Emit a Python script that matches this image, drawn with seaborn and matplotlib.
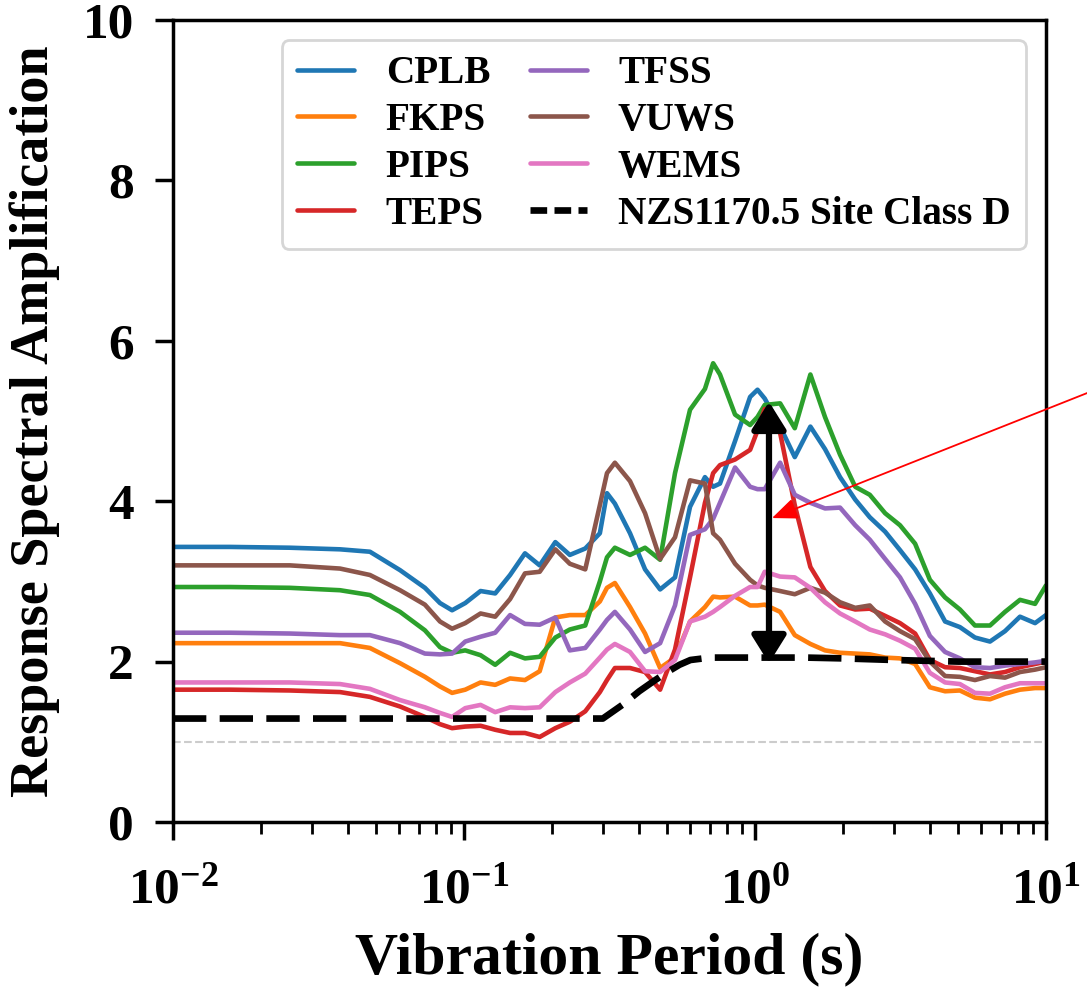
import numpy as np
import pandas as pd
import matplotlib
matplotlib.use("Agg")
import matplotlib.pyplot as plt
from matplotlib.lines import Line2D
from matplotlib.ticker import LogLocator, NullFormatter
import seaborn as sns

# ---------------- data ----------------
period = [0.01, 0.0157, 0.0252, 0.0375, 0.0475, 0.0603, 0.0734, 0.0827, 0.091, 0.101,
          0.114, 0.128, 0.144, 0.162, 0.182, 0.206, 0.231, 0.261, 0.293, 0.310,
          0.330, 0.372, 0.419, 0.472, 0.531, 0.598, 0.673, 0.718, 0.758, 0.854,
          0.962, 1.02, 1.08, 1.22, 1.37, 1.55, 1.74, 1.96, 2.21, 2.48,
          2.80, 3.15, 3.55, 3.99, 4.50, 5.06, 5.70, 6.42, 7.23, 8.14,
          9.17, 10.0]

cplb = [3.43, 3.43, 3.42, 3.40, 3.37, 3.14, 2.92, 2.73, 2.64, 2.73,
        2.88, 2.85, 3.08, 3.35, 3.20, 3.49, 3.33, 3.41, 3.60, 4.10,
        3.97, 3.60, 3.15, 2.90, 3.05, 3.93, 4.30, 4.18, 4.22, 4.75,
        5.30, 5.39, 5.28, 4.93, 4.55, 4.93, 4.65, 4.30, 4.02, 3.80,
        3.62, 3.39, 3.15, 2.85, 2.50, 2.43, 2.30, 2.25, 2.38, 2.56,
        2.48, 2.58]
fkps = [2.23, 2.23, 2.23, 2.23, 2.17, 1.98, 1.81, 1.69, 1.61, 1.65,
        1.74, 1.71, 1.79, 1.77, 1.88, 2.55, 2.58, 2.58, 2.75, 2.92,
        2.98, 2.68, 2.35, 1.92, 2.05, 2.50, 2.68, 2.81, 2.80, 2.81,
        2.70, 2.70, 2.71, 2.62, 2.33, 2.22, 2.14, 2.11, 2.10, 2.09,
        2.05, 2.04, 1.97, 1.68, 1.63, 1.64, 1.55, 1.53, 1.60, 1.65,
        1.67, 1.67]
pips = [2.93, 2.93, 2.92, 2.89, 2.83, 2.62, 2.39, 2.18, 2.11, 2.14,
        2.08, 1.96, 2.11, 2.04, 2.06, 2.30, 2.40, 2.45, 3.00, 3.30,
        3.42, 3.33, 3.42, 3.27, 4.35, 5.14, 5.40, 5.72, 5.58, 5.08,
        4.95, 5.05, 5.20, 5.22, 4.91, 5.58, 5.05, 4.58, 4.18, 4.08,
        3.85, 3.70, 3.47, 3.02, 2.80, 2.65, 2.45, 2.45, 2.62, 2.77,
        2.72, 2.95]
teps = [1.65, 1.65, 1.64, 1.62, 1.56, 1.44, 1.31, 1.22, 1.17, 1.19,
        1.20, 1.15, 1.11, 1.11, 1.06, 1.17, 1.25, 1.38, 1.62, 1.77,
        1.92, 1.92, 1.87, 1.65, 2.15, 3.05, 3.98, 4.35, 4.45, 4.52,
        4.64, 4.88, 5.15, 4.85, 3.95, 3.18, 2.88, 2.70, 2.65, 2.66,
        2.57, 2.48, 2.35, 2.02, 1.93, 1.92, 1.88, 1.84, 1.87, 1.93,
        1.97, 2.00]
tfss = [2.36, 2.36, 2.35, 2.33, 2.33, 2.23, 2.10, 2.09, 2.10, 2.25,
        2.31, 2.36, 2.58, 2.47, 2.46, 2.55, 2.14, 2.17, 2.40, 2.52,
        2.62, 2.40, 2.12, 2.23, 2.70, 3.58, 3.65, 3.78, 3.98, 4.42,
        4.18, 4.15, 4.15, 4.48, 4.08, 3.98, 3.91, 3.92, 3.70, 3.52,
        3.28, 3.05, 2.72, 2.32, 2.12, 2.04, 1.93, 1.92, 1.95, 1.97,
        1.99, 2.01]
vuws = [3.20, 3.20, 3.20, 3.16, 3.08, 2.89, 2.71, 2.50, 2.41, 2.48,
        2.60, 2.56, 2.78, 3.10, 3.12, 3.40, 3.22, 3.15, 3.95, 4.35,
        4.48, 4.25, 3.85, 3.28, 3.55, 4.26, 4.22, 3.60, 3.52, 3.22,
        3.02, 2.95, 2.92, 2.88, 2.84, 2.92, 2.86, 2.74, 2.67, 2.70,
        2.50, 2.38, 2.28, 2.00, 1.82, 1.81, 1.77, 1.82, 1.80, 1.87,
        1.90, 1.93]
wems = [1.74, 1.74, 1.74, 1.72, 1.66, 1.52, 1.43, 1.36, 1.31, 1.42,
        1.46, 1.37, 1.43, 1.42, 1.43, 1.62, 1.74, 1.85, 2.05, 2.15,
        2.22, 2.12, 1.88, 1.87, 2.02, 2.50, 2.56, 2.62, 2.68, 2.82,
        2.93, 2.93, 3.12, 3.06, 3.05, 2.92, 2.74, 2.60, 2.50, 2.40,
        2.34, 2.26, 2.16, 1.86, 1.74, 1.72, 1.61, 1.60, 1.68, 1.73,
        1.73, 1.73]

stations = ["CPLB", "FKPS", "PIPS", "TEPS", "TFSS", "VUWS", "WEMS"]
station_values = [cplb, fkps, pips, teps, tfss, vuws, wems]
station_colors = ["#1f77b4", "#ff7f0e", "#2ca02c", "#d62728",
                  "#9467bd", "#8c564b", "#e377c2"]

nzs_label = "NZS1170.5 Site Class D"
nzs_period = [0.01, 0.3, 0.35, 0.4, 0.45, 0.5, 0.55, 0.6, 0.7, 1.0, 1.5, 2.0, 3.0, 5.0, 10.0]
nzs_amp = [1.29, 1.29, 1.46, 1.63, 1.76, 1.87, 1.96, 2.02, 2.05, 2.05, 2.05, 2.04, 2.02, 2.00, 2.00]

ref_level = 1.0
arrow_period = 1.117
arrow_low, arrow_high = 1.98, 5.24
pointer_period, pointer_amp = 1.144, 3.79

xtick_vals = [0.01, 0.1, 1, 10]
xtick_labels = [r"$\mathbf{10^{-2}}$", r"$\mathbf{10^{-1}}$", r"$\mathbf{10^{0}}$", r"$\mathbf{10^{1}}$"]
ytick_vals = [0, 2, 4, 6, 8, 10]
ytick_labels = ["0", "2", "4", "6", "8", "10"]

# ---------------- style ----------------
sns.set_style("ticks")
plt.rcParams["font.family"] = ["Liberation Serif", "DejaVu Serif"]
plt.rcParams["font.weight"] = "bold"
plt.rcParams["axes.labelweight"] = "bold"
plt.rcParams["text.color"] = "black"
plt.rcParams["axes.labelcolor"] = "black"
plt.rcParams["xtick.color"] = "black"
plt.rcParams["ytick.color"] = "black"
plt.rcParams["mathtext.fontset"] = "custom"
plt.rcParams["mathtext.bf"] = "Liberation Serif:bold"
plt.rcParams["mathtext.rm"] = "Liberation Serif:bold"
plt.rcParams["mathtext.it"] = "Liberation Serif:bold:italic"

df = pd.DataFrame({
    "period": np.tile(period, len(stations)),
    "amp": np.concatenate(station_values),
    "station": np.repeat(stations, len(period)),
})

fig = plt.figure(figsize=(10.87, 9.9), dpi=100)
ax = fig.add_axes([173 / 1087, 1 - 822 / 990, (1046 - 173) / 1087, (822 - 20) / 990])

ax.axhline(ref_level, color="#cccccc", lw=1.5, ls="--", zorder=0)

sns.lineplot(data=df, x="period", y="amp", hue="station", hue_order=stations,
             palette=dict(zip(stations, station_colors)), lw=3.3, errorbar=None,
             legend=False, ax=ax)
sns.lineplot(x=nzs_period, y=nzs_amp, color="black", lw=4.8, errorbar=None,
             legend=False, ax=ax)
ax.lines[-1].set_dashes((5.0, 2.0))

ax.set_xscale("log")
ax.set_xlim(0.01, 10)
ax.set_ylim(0, 10)
ax.set_xticks(xtick_vals, xtick_labels)
ax.xaxis.set_minor_locator(LogLocator(base=10, subs=np.arange(2, 10)))
ax.xaxis.set_minor_formatter(NullFormatter())
ax.set_yticks(ytick_vals, ytick_labels)

ax.tick_params(axis="both", which="major", direction="out", length=13, width=2.5,
               labelsize=37, colors="black")
ax.tick_params(axis="y", which="major", pad=15)
ax.tick_params(axis="x", which="major", pad=20)
ax.tick_params(axis="x", which="minor", direction="out", length=8.5, width=2, colors="black")
for sp in ax.spines.values():
    sp.set_visible(True)
    sp.set_linewidth(2.5)
    sp.set_color("black")

ax.set_xlabel("Vibration Period (s)", fontsize=43, fontweight="bold", color="black")
ax.set_ylabel("Response Spectral Amplification", fontsize=39, fontweight="bold", color="black")
ax.xaxis.set_label_coords(0.5, -0.137)
ax.yaxis.set_label_coords(-0.13, 0.5)

handles = [Line2D([], [], color=c, lw=3.3) for c in station_colors]
handles.append(Line2D([], [], color="black", lw=4.8, dashes=(2.5, 1.1)))
labels = stations + [nzs_label]
leg = ax.legend(handles, labels, ncol=2, loc="upper right", fontsize=28.3,
                handlelength=1.45, handletextpad=0.8, columnspacing=1.0,
                labelspacing=0.25, borderpad=0.4, frameon=True, fancybox=True,
                edgecolor="0.8", framealpha=0.8)
leg.get_frame().set_linewidth(2)
for t in leg.get_texts():
    t.set_color("black")

ax.annotate("", xy=(arrow_period, arrow_high), xytext=(arrow_period, arrow_low),
            arrowprops=dict(arrowstyle="<|-|>,head_length=0.4,head_width=0.25",
                            color="black", lw=4.5, mutation_scale=42,
                            shrinkA=0, shrinkB=0))
ax.annotate("", xy=(pointer_period, pointer_amp), xycoords="data",
            xytext=(1120, 610), textcoords="figure pixels",
            arrowprops=dict(arrowstyle="-|>,head_length=0.6,head_width=0.25",
                            color="red", lw=1.3, mutation_scale=26,
                            shrinkA=0, shrinkB=0),
            annotation_clip=False)

fig.savefig("out.png", dpi=100)
